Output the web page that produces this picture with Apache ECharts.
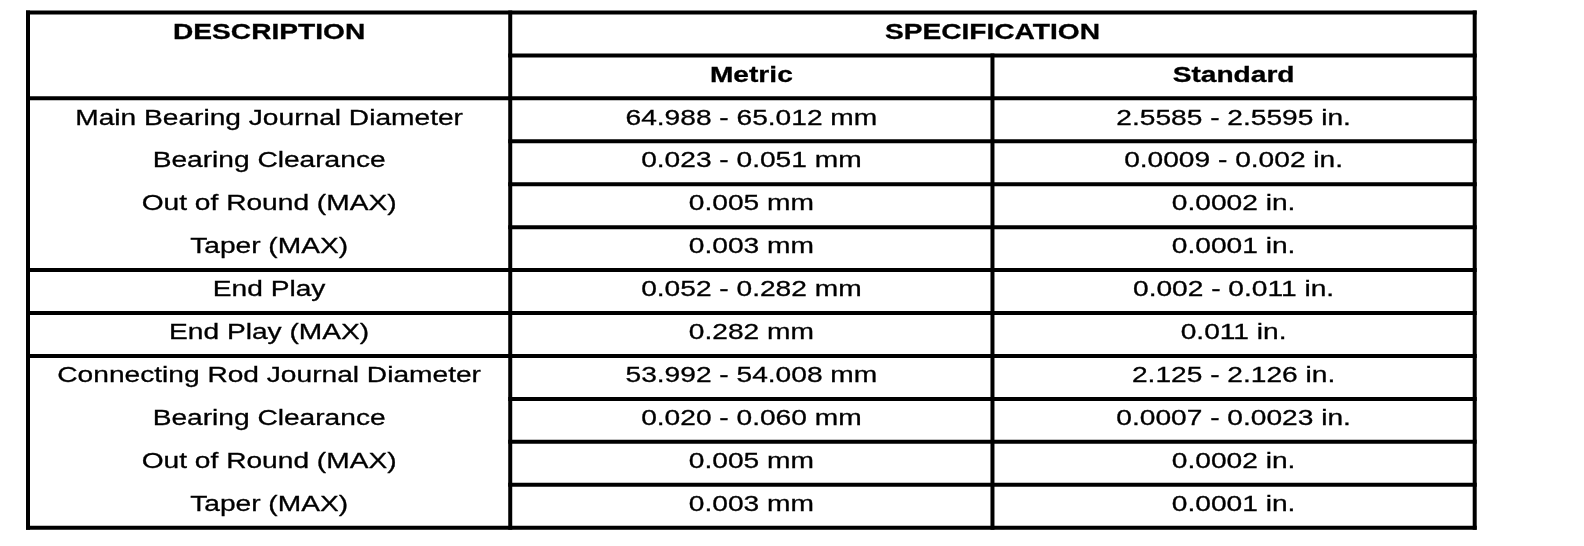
<!DOCTYPE html>
<html>
<head>
<meta charset="utf-8">
<script src="https://cdn.jsdelivr.net/npm/echarts@6/dist/echarts.min.js"></script>
<style>
html,body{margin:0;padding:0;background:#fff;}
#c{width:1584px;height:546px;}
</style>
</head>
<body>
<div id="c"></div>
<script>
const headerTop = ['DESCRIPTION', 'SPECIFICATION'];
const headerSub = ['Metric', 'Standard'];
const descriptions = [
  'Main Bearing Journal Diameter',
  'Bearing Clearance',
  'Out of Round (MAX)',
  'Taper (MAX)',
  'End Play',
  'End Play (MAX)',
  'Connecting Rod Journal Diameter',
  'Bearing Clearance',
  'Out of Round (MAX)',
  'Taper (MAX)'
];
const metric = [
  '64.988 - 65.012 mm',
  '0.023 - 0.051 mm',
  '0.005 mm',
  '0.003 mm',
  '0.052 - 0.282 mm',
  '0.282 mm',
  '53.992 - 54.008 mm',
  '0.020 - 0.060 mm',
  '0.005 mm',
  '0.003 mm'
];
const standard = [
  '2.5585 - 2.5595 in.',
  '0.0009 - 0.002 in.',
  '0.0002 in.',
  '0.0001 in.',
  '0.002 - 0.011 in.',
  '0.011 in.',
  '2.125 - 2.126 in.',
  '0.0007 - 0.0023 in.',
  '0.0002 in.',
  '0.0001 in.'
];
// description rows that end a group (full-width rule below them)
const groupEnds = [3, 4, 5];

const HEAD_ROWS = 2;
const NROWS = HEAD_ROWS + descriptions.length;

// cells: [col, row, colSpan, text, bold]
const cells = [];
cells.push([0, 0, 1, headerTop[0], 1]);
cells.push([1, 0, 2, headerTop[1], 1]);
cells.push([1, 1, 1, headerSub[0], 1]);
cells.push([2, 1, 1, headerSub[1], 1]);
descriptions.forEach((d, i) => {
  cells.push([0, HEAD_ROWS + i, 1, d, 0]);
  cells.push([1, HEAD_ROWS + i, 1, metric[i], 0]);
  cells.push([2, HEAD_ROWS + i, 1, standard[i], 0]);
});

// rules: [x1, y1, x2, y2] in table units
const rules = [];
rules.push([0, 0, 3, 0], [0, NROWS, 3, NROWS], [0, 0, 0, NROWS], [3, 0, 3, NROWS]);
rules.push([1, 0, 1, NROWS], [2, 1, 2, NROWS]);
rules.push([1, 1, 3, 1], [0, 2, 3, 2]);
for (let i = 0; i < descriptions.length - 1; i++) {
  const y = HEAD_ROWS + i + 1;
  rules.push([groupEnds.indexOf(i) >= 0 ? 0 : 1, y, 3, y]);
}

const chart = echarts.init(document.getElementById('c'), null, {renderer: 'canvas'});
const FONT_SIZE = 22.5;
const SCALE_X = 1.25;

chart.setOption({
  animation: false,
  backgroundColor: '#ffffff',
  grid: {left: 28, right: 109.3, top: 12.5, bottom: 18.3},
  xAxis: {type: 'value', min: 0, max: 3, show: false},
  yAxis: {type: 'value', min: 0, max: NROWS, inverse: true, show: false},
  series: [
    {
      type: 'custom',
      coordinateSystem: 'cartesian2d',
      data: rules,
      silent: true,
      renderItem: function (params, api) {
        const p1 = api.coord([api.value(0), api.value(1)]);
        const p2 = api.coord([api.value(2), api.value(3)]);
        return {
          type: 'line',
          shape: {x1: p1[0], y1: p1[1], x2: p2[0], y2: p2[1]},
          style: {stroke: '#000', lineWidth: 4, lineCap: 'square'}
        };
      }
    },
    {
      type: 'custom',
      coordinateSystem: 'cartesian2d',
      data: cells,
      silent: true,
      encode: {x: 0, y: 1},
      renderItem: function (params, api) {
        const col = api.value(0), row = api.value(1), span = api.value(2);
        const item = cells[params.dataIndex];
        const a = api.coord([col, row]);
        const b = api.coord([col + span, row + 1]);
        const cx = (a[0] + b[0]) / 2;
        const cy = (a[1] + b[1]) / 2 - 1.5;
        return {
          type: 'text',
          x: cx,
          y: cy,
          scaleX: SCALE_X,
          style: {
            x: 0, y: 0,
            text: item[3],
            fill: '#000',
            stroke: '#000',
            lineWidth: 0.3,
            font: (item[4] ? 'bold ' : '') + FONT_SIZE + 'px "Liberation Sans", Arial, sans-serif',
            align: 'center',
            verticalAlign: 'middle'
          }
        };
      }
    }
  ]
});
</script>
</body>
</html>
